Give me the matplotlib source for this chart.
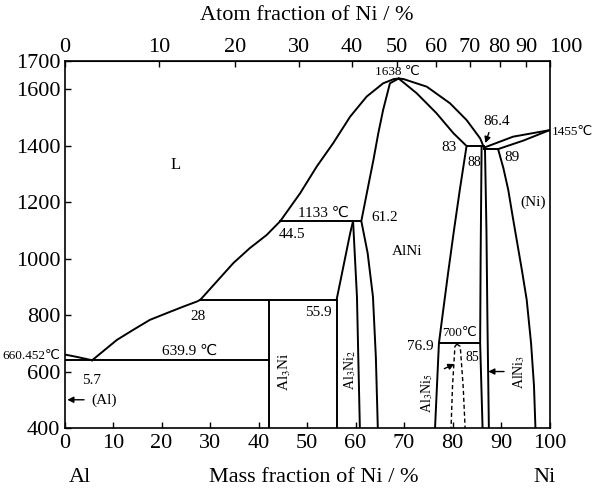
import numpy as np
import matplotlib.pyplot as plt

plt.rcParams['font.family'] = ['Liberation Serif', 'DejaVu Sans']
plt.rcParams['mathtext.fontset'] = 'stix'

# phase boundaries: mass fraction Ni (%) vs temperature (C)
liq_al_w = [0, 2.5, 5.7]
liq_al_t = [660.452, 652, 639.9]
liq1_w = [5.7, 10.8, 14.2, 17.6, 21.1, 24.5, 27.3, 28]
liq1_t = [639.9, 712, 748, 783, 807, 830, 848, 854]
liq2_w = [28, 31.4, 34.8, 38.2, 41.7, 44.5]
liq2_t = [854, 919, 984, 1037, 1084, 1133]
liq3_w = [44.5, 48.6, 52.0, 55.4, 58.9, 62.3, 65.7, 67.9, 68.9, 69.9, 74.7, 79.5, 82.9, 85.7, 86.5]
liq3_t = [1133, 1232, 1326, 1409, 1503, 1574, 1621, 1636, 1638, 1636, 1609, 1550, 1491, 1426, 1393]

alni_left_w = [64.6, 64.2, 63.6, 62.5, 61.2, 62.6, 63.7, 64.7, 65.7, 67.1, 68.9]
alni_left_t = [400, 650, 865, 1020, 1133, 1255, 1350, 1444, 1527, 1621, 1638]
alni_right_w = [68.9, 72.6, 76.7, 80.2, 82.9, 81.5, 80.3, 79.1, 77.8, 77.2, 76.8, 76.4]
alni_right_t = [1638, 1586, 1515, 1444, 1399, 1243, 1100, 950, 780, 700, 550, 400]

al3ni2_left_w = [56.1, 56.8, 58.2, 58.9, 59.5]
al3ni2_left_t = [854, 913, 1031, 1090, 1133]
al3ni2_right_w = [59.5, 60.3, 60.9]
al3ni2_right_t = [1133, 865, 400]

alni3_left_w = [86.0, 85.8, 85.7, 86.2]
alni3_left_t = [1398, 1000, 700, 400]
alni3_right_w = [86.7, 87.0, 87.2, 87.5]
alni3_right_t = [1388, 1100, 783, 400]

ni_solvus_w = [89.4, 90.5, 91.5, 92.4, 93.3, 94.3, 95.3, 96.2, 96.8, 97.1]
ni_solvus_t = [1388, 1320, 1243, 1150, 1060, 960, 854, 700, 550, 400]
ni_liq_w = [86.5, 92.5, 100]
ni_liq_t = [1393, 1432, 1455]
ni_sol_w = [89.4, 94.6, 100]
ni_sol_t = [1388, 1418, 1455]

dash_left_w = [80.9, 80.5, 80.0, 79.7]
dash_left_t = [697, 689, 547, 400]
dash_right_w = [80.9, 81.6, 82.2, 82.6]
dash_right_t = [697, 689, 547, 400]

# invariant lines: (w start, w end, temperature)
horizontals = [(0, 42.2, 639.9), (28, 56.1, 854), (44.5, 61.2, 1133),
               (77.2, 85.7, 700), (82.9, 86.5, 1398), (86.5, 89.4, 1388)]
# compound lines: (w, t top, t bottom)
verticals = [(42.2, 854, 400), (56.1, 854, 400)]

atom_ticks = list(range(0, 101, 10))


def mass2atom(w):
    w = np.asarray(w, dtype=float)
    with np.errstate(divide='ignore', invalid='ignore'):
        a = (w / 58.69) / (w / 58.69 + (100 - w) / 26.98) * 100
    return a


def atom2mass(a):
    a = np.asarray(a, dtype=float)
    with np.errstate(divide='ignore', invalid='ignore'):
        w = a * 58.69 / (a * 58.69 + (100 - a) * 26.98) * 100
    return w


fig = plt.figure(figsize=(6.01, 4.97), dpi=100)
ax = fig.add_axes([64.5 / 601, 69 / 497, 485 / 601, 367 / 497])

lw = 1.4
for w, t in [(liq_al_w, liq_al_t), (liq1_w, liq1_t), (liq2_w, liq2_t), (liq3_w, liq3_t),
             (alni_left_w, alni_left_t), (alni_right_w, alni_right_t),
             (al3ni2_left_w, al3ni2_left_t), (al3ni2_right_w, al3ni2_right_t),
             (alni3_left_w, alni3_left_t), (alni3_right_w, alni3_right_t),
             (ni_solvus_w, ni_solvus_t), (ni_liq_w, ni_liq_t), (ni_sol_w, ni_sol_t)]:
    ax.plot(w, t, color='k', lw=lw)
for w0, w1, t in horizontals:
    ax.plot([w0, w1], [t, t], color='k', lw=lw)
for w, t0, t1 in verticals:
    ax.plot([w, w], [t0, t1], color='k', lw=lw)
ax.plot(dash_left_w, dash_left_t, color='k', lw=1.0, ls=(0, (3, 2)))
ax.plot(dash_right_w, dash_right_t, color='k', lw=1.0, ls=(0, (3, 2)))

ax.set_xlim(0, 100)
ax.set_ylim(400, 1700)
ax.set_xticks(range(0, 101, 10))
ax.set_yticks([400, 600, 800, 1000, 1200, 1400, 1600, 1700])
ax.tick_params(direction='in', length=4, width=1, labelsize=16, pad=4)
ax.tick_params(axis='y', pad=3)
for s in ax.spines.values():
    s.set_linewidth(1.2)

sec = ax.secondary_xaxis('top', functions=(mass2atom, atom2mass))
sec.set_xticks(atom_ticks, [str(a) for a in atom_ticks])
sec.tick_params(direction='in', length=4, width=1, labelsize=16, pad=3)
# the last labels sit crowded at the nickel end, as in the original
labs = sec.get_xticklabels()
labs[-1].set_horizontalalignment('left')
labs[-1].set_x(labs[-1].get_position()[0])

fig.text(0.5 * (64.5 + 549.5) / 601, 1 - 15 / 497, 'Atom fraction of Ni / %',
         ha='center', va='center', fontsize=16)
fig.text(314 / 601, 1 - 478 / 497, 'Mass fraction of Ni / %',
         ha='center', va='center', fontsize=16)
fig.text(80 / 601, 1 - 478 / 497, 'Al', ha='center', va='center', fontsize=16)
fig.text(545 / 601, 1 - 478 / 497, 'Ni', ha='center', va='center', fontsize=16)

# phase and point labels
ax.text(22.8, 1332, 'L', fontsize=12, ha='center', va='center')
ax.text(70.7, 1025, 'AlNi', fontsize=11, ha='center', va='center')
ax.text(96.6, 1200, '(Ni)', fontsize=11, ha='center', va='center')
ax.text(45.4, 600, r'Al$_3$Ni', fontsize=11, rotation=90, ha='center', va='center')
ax.text(58.9, 606, r'Al$_3$Ni$_2$', fontsize=10, rotation=90, ha='center', va='center')
ax.text(74.7, 525, r'Al$_3$Ni$_5$', fontsize=10, rotation=90, ha='center', va='center')
ax.text(93.7, 600, r'AlNi$_3$', fontsize=10, rotation=90, ha='center', va='center')

ax.text(68.6, 1661, '1638 ℃', fontsize=9.5, ha='center', va='center')
ax.text(53.3, 1161, '1133 ℃', fontsize=11, ha='center', va='center')
ax.text(46.9, 1084, '44.5', fontsize=11, ha='center', va='center')
ax.text(66.1, 1144, '61.2', fontsize=11, ha='center', va='center')
ax.text(27.6, 794, '28', fontsize=11, ha='center', va='center')
ax.text(52.3, 808, '55.9', fontsize=11, ha='center', va='center')
ax.text(25.9, 670, '639.9 ℃', fontsize=11, ha='center', va='center')
ax.text(3.6, 570, '5.7', fontsize=11, ha='left', va='center')
ax.text(-0.8, 656, '660.452℃', fontsize=9.5, ha='right', va='center')
ax.text(5.6, 500, '(Al)', fontsize=11, ha='left', va='center')
ax.text(73.3, 688, '76.9', fontsize=11, ha='center', va='center')
ax.text(81.5, 737, '700℃', fontsize=9.5, ha='center', va='center')
ax.text(84.2, 650, '85', fontsize=10, ha='center', va='center')
ax.text(79.3, 1392, '83', fontsize=11, ha='center', va='center')
ax.text(84.6, 1342, '88', fontsize=10, ha='center', va='center')
ax.text(92.3, 1357, '89', fontsize=11, ha='center', va='center')
ax.text(89.2, 1484, '86.4', fontsize=11, ha='center', va='center')
ax.text(100.4, 1449, '1455℃', fontsize=9.5, ha='left', va='center')

arrow = dict(arrowstyle='-|>', color='k', lw=1.0, mutation_scale=9)
ax.annotate('', xy=(0, 500), xytext=(4.6, 500), arrowprops=arrow)
ax.annotate('', xy=(80.9, 631), xytext=(77.8, 606), arrowprops=arrow)
ax.annotate('', xy=(86.8, 600), xytext=(91.2, 600), arrowprops=arrow)
ax.annotate('', xy=(86.6, 1400), xytext=(87.7, 1456), arrowprops=arrow)

fig.savefig('out.png', dpi=100)
